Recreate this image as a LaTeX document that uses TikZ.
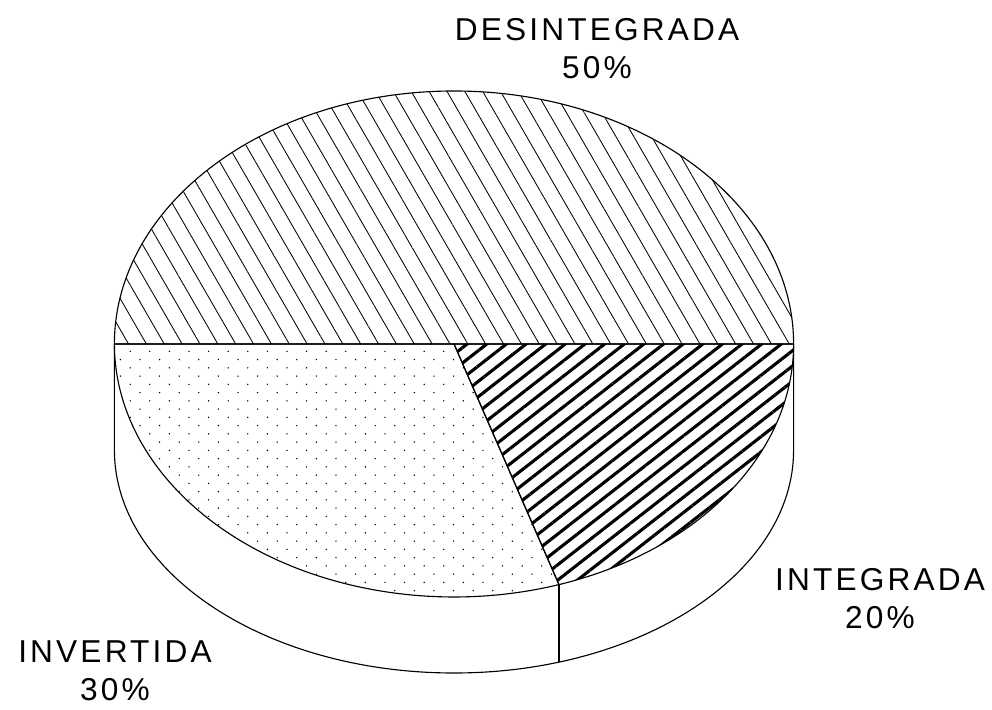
\documentclass[tikz,border=0pt]{standalone}
\usepackage{fontspec}
\setmainfont{Liberation Sans}[LetterSpace=10]
\usepackage{tikz}
\usetikzlibrary{patterns}
\usetikzlibrary{patterns.meta}

\pgfdeclarepatternformonly{sparse dots}{\pgfqpoint{-1pt}{-1pt}}{\pgfqpoint{14.94pt}{12.74pt}}{\pgfqpoint{13.94pt}{11.74pt}}{%
\pgfpathcircle{\pgfqpoint{2pt}{2pt}}{0.55pt}%
\pgfpathcircle{\pgfqpoint{8.97pt}{7.87pt}}{0.55pt}%
\pgfusepath{fill}%
}

\begin{document}
\begin{tikzpicture}[edge/.style={line width=0.8pt},
  pielabel/.style={font=\fontsize{22.5}{27}\selectfont,align=center,inner sep=0pt}]
\useasboundingbox (0,0) rectangle (24.8,17.725);
\coordinate (C) at (11.35,9.125);
\coordinate (E) at (19.84,9.125);
\coordinate (W) at (2.86,9.125);
\coordinate (P) at (13.974,3.110);
\coordinate (Q) at (13.974,1.173);

% side of the pie
\draw[edge] (W) -- (2.86,6.475) arc[start angle=180,end angle=360,x radius=8.49,y radius=5.575] -- (E);
\draw[edge] (P) -- (Q);

% slices
\draw[edge,pattern={Lines[angle=120,distance=11pt,line width=0.6pt]}] (C) -- (E) arc[start angle=0,end angle=180,x radius=8.49,y radius=6.325] -- cycle;
\draw[edge,pattern={Lines[angle=38,distance=8.6pt,line width=2.2pt]}] (C) -- (E) arc[start angle=0,end angle=-72,x radius=8.49,y radius=6.325] -- cycle;
\draw[edge,pattern=sparse dots] (C) -- (P) arc[start angle=-72,end angle=-180,x radius=8.49,y radius=6.325] -- cycle;

\node[pielabel] (desint) at (14.925,16.5) {DESINTEGRADA\\50\%};
\node[pielabel] (integ) at (22.0,2.76) {INTEGRADA\\20\%};
\node[pielabel] (invert) at (2.875,0.96) {INVERTIDA\\30\%};
\end{tikzpicture}
\end{document}
